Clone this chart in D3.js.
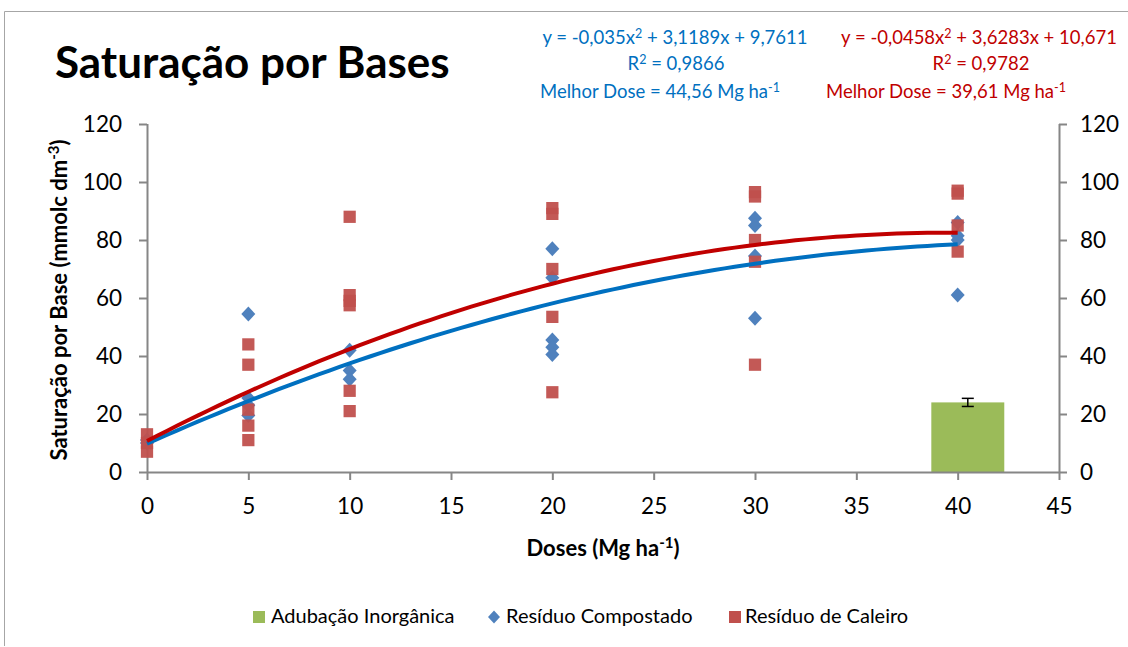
<!DOCTYPE html>
<html><head><meta charset="utf-8">
<script src="https://cdn.jsdelivr.net/npm/d3@7"></script>
<style>body{margin:0;background:#fff}svg{display:block}text{font-family:Lato,"Open Sans",sans-serif}</style>
</head><body>
<svg id="c" width="1128" height="647"></svg>
<script>
const xTicks = [0,5,10,15,20,25,30,35,40,45];
const yTicks = [0,20,40,60,80,100,120];
const compostoDose = [0,0,5,5,5,5,10,10,10,20,20,20,20,20,30,30,30,30,40,40,40,40];
const compostoVal  = [10,11,54.5,25.5,23,19.5,42,35,32,77,67,45.5,43,40.5,87.5,85,74.5,53,86,81.5,80,61];
const caleiroDose = [0,0,0,5,5,5,5,5,10,10,10,10,10,10,20,20,20,20,20,30,30,30,30,30,40,40,40,40];
const caleiroVal  = [13,10,7,44,37,21.5,16,11,88,61,59,57.5,28,21,91,89,70,53.5,27.5,96.5,95,80,72.5,37,97,96,85,76];
const barDose = [40.5];
const barVal = [24];
const barErr = [1.4];
const blueCoef = [-0.035, 3.1189, 9.7611];
const redCoef = [-0.0458, 3.6283, 10.671];
const legendLabels = ["Adubação Inorgânica","Resíduo Compostado","Resíduo de Caleiro"];

const svg = d3.select("#c");
const axisColor = "#868686";
svg.append("path").attr("d","M4.5,646 V11.5 H1128").attr("fill","none").attr("stroke","#a6a6a6").attr("stroke-width",1);

const x = d3.scaleLinear().domain([0,45]).range([147,1059]);
const y = d3.scaleLinear().domain([0,120]).range([472,124]);

// bar
svg.append("g").selectAll("rect").data(barVal).join("rect")
  .attr("x",(d,i)=>x(barDose[i]-1.8)).attr("width",x(3.6)-x(0))
  .attr("y",d=>y(d)).attr("height",d=>y(0)-y(d)).attr("fill","#9BBB59");
const eb = svg.append("g").attr("stroke","#000").attr("stroke-width",1.5);
barVal.forEach((v,i)=>{
  const cx = x(barDose[i]);
  eb.append("line").attr("x1",cx).attr("x2",cx).attr("y1",y(v+barErr[i])).attr("y2",y(v-barErr[i]));
  eb.append("line").attr("x1",cx-6).attr("x2",cx+6).attr("y1",y(v+barErr[i])).attr("y2",y(v+barErr[i]));
  eb.append("line").attr("x1",cx-6).attr("x2",cx+6).attr("y1",y(v-barErr[i])).attr("y2",y(v-barErr[i]));
});

// axes
const gx = svg.append("g").attr("transform",`translate(0,${y(0)})`)
  .call(d3.axisBottom(x).tickValues(xTicks).tickSize(8).tickPadding(18).tickFormat(d3.format("d")));
const gyl = svg.append("g").attr("transform",`translate(${x(0)},0)`)
  .call(d3.axisLeft(y).tickValues(yTicks).tickSize(8).tickPadding(17));
const gyr = svg.append("g").attr("transform",`translate(${x(45)},0)`)
  .call(d3.axisRight(y).tickValues(yTicks).tickSize(8).tickPadding(13));
[gx,gyl,gyr].forEach(g=>{
  g.selectAll("path,line").attr("stroke",axisColor).attr("stroke-width",2);
  g.select(".domain").attr("d", g===gx ? `M${x(0)},0.5H${x(45)}` : `M0.5,${y(0)}V${y(120)}`);
  g.selectAll("text").attr("font-size",22.5).attr("fill","#000").attr("font-family","Lato,sans-serif");
});

// markers
const diamondPath = "M0,-7.5L7,0L0,7.5L-7,0Z";
svg.append("g").selectAll("path").data(compostoVal).join("path")
  .attr("d",diamondPath).attr("transform",(d,i)=>`translate(${x(compostoDose[i])},${y(d)})`)
  .attr("fill","#4F81BD");
const square = d3.symbol().type(d3.symbolSquare).size(150);
svg.append("g").selectAll("path").data(caleiroVal).join("path")
  .attr("d",square).attr("transform",(d,i)=>`translate(${x(caleiroDose[i])},${y(d)})`)
  .attr("fill","#C0504D").attr("fill-opacity",0.95);

// trend lines
const xs = d3.range(0,40.01,0.5);
const poly = c => v => c[0]*v*v + c[1]*v + c[2];
const line = f => d3.line().x(d=>x(d)).y(d=>y(f(d)))(xs);
svg.append("path").attr("d",line(poly(blueCoef))).attr("fill","none").attr("stroke","#0070C0").attr("stroke-width",4);
svg.append("path").attr("d",line(poly(redCoef))).attr("fill","none").attr("stroke","#C00000").attr("stroke-width",4);

// title
svg.append("text").attr("x",55).attr("y",78).attr("font-size",44).attr("font-weight","bold").text("Saturação por Bases");

// axis titles
svg.append("text").attr("transform","translate(67,300) rotate(-90)").attr("text-anchor","middle")
  .attr("font-size",22).attr("font-weight","bold")
  .html('Saturação por Base (mmolc dm<tspan dy="-8" font-size="15">-3</tspan><tspan dy="8">)</tspan>');
svg.append("text").attr("x",603).attr("y",556).attr("text-anchor","middle")
  .attr("font-size",22).attr("font-weight","bold")
  .html('Doses (Mg ha<tspan dy="-8" font-size="15">-1</tspan><tspan dy="8">)</tspan>');

// equations
function eq(cxs, color, l1, l2, l3){
  const g = svg.append("g").attr("fill",color).attr("font-size",18.5).attr("text-anchor","middle");
  g.append("text").attr("x",cxs[0]).attr("y",44).html(l1);
  g.append("text").attr("x",cxs[1]).attr("y",70).html(l2);
  g.append("text").attr("x",cxs[2]).attr("y",98).html(l3);
}
eq([675,676,660],"#0070C0",'y = -0,035x<tspan dy="-6" font-size="12.5">2</tspan><tspan dy="6"> + 3,1189x + 9,7611</tspan>',
  'R<tspan dy="-6" font-size="12.5">2</tspan><tspan dy="6"> = 0,9866</tspan>',
  'Melhor Dose = 44,56 Mg ha<tspan dy="-6" font-size="12.5">-1</tspan>');
eq([979,981,946],"#C00000",'y = -0,0458x<tspan dy="-6" font-size="12.5">2</tspan><tspan dy="6"> + 3,6283x + 10,671</tspan>',
  'R<tspan dy="-6" font-size="12.5">2</tspan><tspan dy="6"> = 0,9782</tspan>',
  'Melhor Dose = 39,61 Mg ha<tspan dy="-6" font-size="12.5">-1</tspan>');

// legend
const lg = svg.append("g").attr("font-size",20);
const lx = [271, 506, 745];
lg.append("rect").attr("x",lx[0]-18).attr("y",611).attr("width",12).attr("height",12).attr("fill","#9BBB59");
lg.append("path").attr("d","M0,-6.5L6,0L0,6.5L-6,0Z").attr("transform",`translate(${lx[1]-12},617)`).attr("fill","#4F81BD");
lg.append("rect").attr("x",lx[2]-16).attr("y",611).attr("width",12).attr("height",12).attr("fill","#C0504D");
legendLabels.forEach((t,i)=>lg.append("text").attr("x",lx[i]).attr("y",623).text(t));
</script>
</body></html>
